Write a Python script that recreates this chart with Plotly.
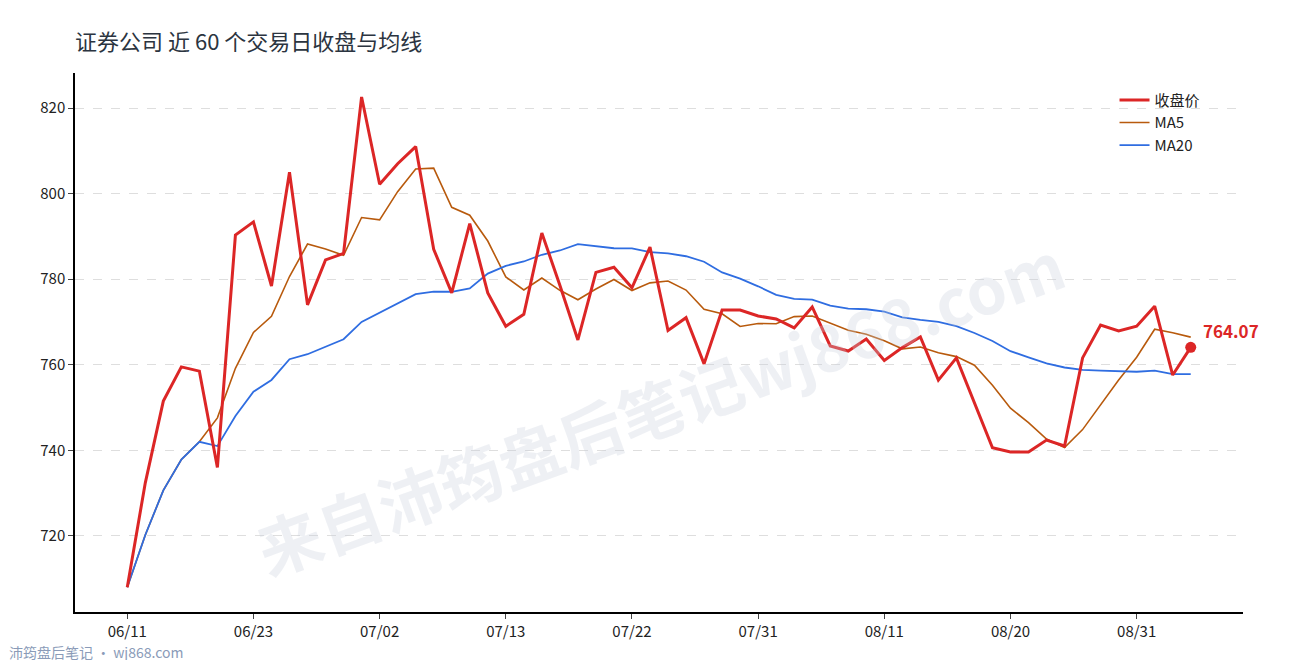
import pandas as pd
from plotly import graph_objects as go

# closing prices, 60 trading days
close = [708.0, 732.4, 751.5, 759.5, 758.5, 736.0, 790.3, 793.4, 778.4, 805.0,
         774.0, 784.5, 786.0, 822.6, 802.2, 807.0, 811.0, 787.0, 776.8, 793.0,
         776.8, 769.0, 771.8, 790.8, 778.6, 765.8, 781.6, 782.8, 778.0, 787.5,
         768.0, 771.0, 760.2, 772.8, 772.8, 771.4, 770.7, 768.6, 773.5, 764.4,
         763.2, 766.0, 761.0, 764.0, 766.5, 756.4, 761.6, 751.0, 740.6, 739.6,
         739.6, 742.4, 741.0, 761.6, 769.3, 767.9, 769.0, 773.7, 757.6, 764.07]
tick_labels = ['06/11', '06/23', '07/02', '07/13', '07/22', '07/31', '08/11', '08/20', '08/31']
tick_idx = [0, 7, 14, 21, 28, 35, 42, 49, 56]

s = pd.Series(close)
ma5 = s.rolling(5, min_periods=1).mean()
ma20 = s.rolling(20, min_periods=1).mean()
x = list(range(len(close)))

font = 'Noto Sans CJK SC'
fig = go.Figure()
fig.add_trace(go.Scatter(x=x, y=ma5, mode='lines', name='MA5', legendrank=2,
                         line=dict(color='#b85a0d', width=1.6)))
fig.add_trace(go.Scatter(x=x, y=ma20, mode='lines', name='MA20', legendrank=3,
                         line=dict(color='#2f6de1', width=1.8)))
fig.add_trace(go.Scatter(x=x, y=close, mode='lines', name='收盘价', legendrank=1,
                         line=dict(color='#dc2626', width=3)))
fig.add_trace(go.Scatter(x=[x[-1]], y=[close[-1]], mode='markers', showlegend=False,
                         marker=dict(color='#dc2626', size=11)))
fig.add_annotation(x=x[-1], y=close[-1], text='<b>%.2f</b>' % close[-1], showarrow=False,
                   xanchor='left', yanchor='bottom', xshift=10, yshift=2,
                   font=dict(color='#dc2626', size=17, family=font))

# watermark
fig.add_annotation(xref='paper', yref='paper', x=0.5, y=0.74, text='<b>来自沛筠盘后笔记wj868.com</b>',
                   showarrow=False, textangle=-20, font=dict(size=64, color='rgba(200,205,220,0.3)', family=font))
fig.add_annotation(xref='paper', yref='paper', x=-0.058, y=-0.075, text='沛筠盘后笔记 · wj868.com',
                   showarrow=False, xanchor='left', yanchor='middle',
                   font=dict(size=14, color='#8a9bb8', family=font))

fig.update_layout(
    width=1290, height=660, template='plotly_white',
    font=dict(family=font, size=15, color='#222'),
    title=dict(text='证券公司 近 60 个交易日收盘与均线', x=0.052, y=0.96,
               font=dict(size=22, color='#2b3440')),
    margin=dict(l=67, r=55, t=65, b=56, autoexpand=False),
    plot_bgcolor='white',
    legend=dict(x=0.89, y=0.98, xanchor='left', yanchor='top', traceorder='normal',
                bgcolor='rgba(0,0,0,0)', font=dict(size=15)),
)
fig.update_xaxes(range=[-2.9, 61.9], tickvals=tick_idx, ticktext=tick_labels, showgrid=False,
                 showline=True, linecolor='black', linewidth=1.5, ticks='outside', ticklen=5,
                 zeroline=False, automargin=False)
fig.update_yaxes(range=[702.2, 828.2], tickvals=[720, 740, 760, 780, 800, 820], showgrid=True,
                 gridcolor='#dedede', griddash='dash', showline=True, linecolor='black', linewidth=1.5,
                 ticks='outside', ticklen=5, zeroline=False, automargin=False)
fig.write_html('out.html')
